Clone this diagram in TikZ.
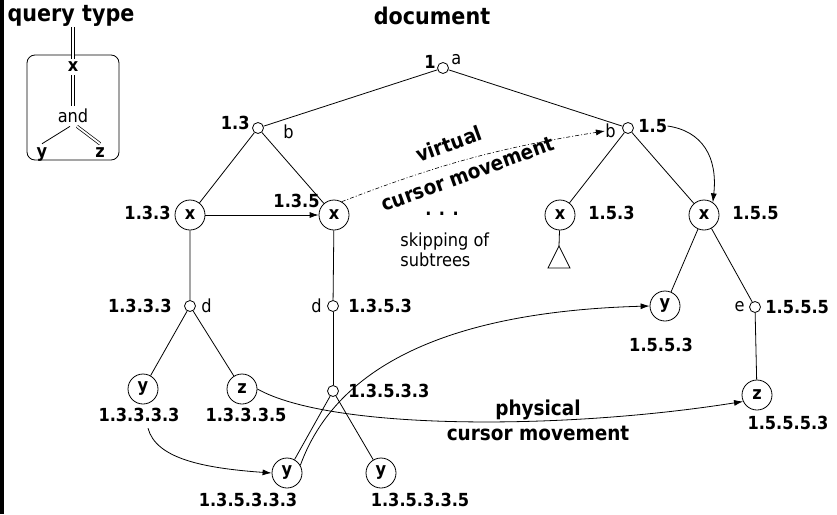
\documentclass[tikz,border=0pt]{standalone}
\usepackage{fontspec}
\setmainfont[FakeStretch=0.9]{DejaVu Sans}
\usetikzlibrary{arrows.meta, positioning}

\tikzset{
    elem/.style={circle, draw, minimum size=30pt, inner sep=0pt, font=\fontsize{18}{20}\selectfont\bfseries},
    txt/.style={circle, draw, minimum size=11pt, inner sep=0pt},
    lbl/.style={inner sep=0pt, font=\fontsize{18}{20}\selectfont\bfseries},
    tag/.style={inner sep=0pt, font=\fontsize{18}{20}\selectfont},
    head/.style={inner sep=1pt, font=\fontsize{23}{26}\selectfont\bfseries},
    move/.style={inner sep=0pt, font=\fontsize{20.5}{25}\selectfont\bfseries},
    dbl/.style={double, double distance=1.8pt, line width=0.7pt},
    virt/.style={dash pattern=on 4pt off 2pt on 1pt off 2pt}
}

\begin{document}
\begin{tikzpicture}[x=1pt, y=-1pt, line width=0.8pt, >={Latex[length=9pt,width=6pt]}]
    \useasboundingbox (0,0) rectangle (837,514);
    \fill (0,0) rectangle (4,514);

    % Tiêu đề
    \node[head, anchor=base] (qt) at (71,21) {query type};
    \node[head, anchor=base] (dt) at (432,24) {document};

    % Truy vấn
    \node[draw, rounded corners=8pt, minimum width=92pt, minimum height=105pt] (qbox) at (73,107.5) {};
    \node[lbl, inner sep=3pt] (qx) at (73,67) {x};
    \node[tag, inner sep=3pt] (qand) at (73,116) {and};
    \node[lbl, inner sep=3pt, anchor=base] (qy) at (42,157) {y};
    \node[lbl, inner sep=3pt, anchor=base] (qz) at (100,157) {z};
    \draw[dbl] (qx |- qt.south) -- (qx);
    \draw[dbl] (qx) -- (qand);
    \draw ([xshift=-3pt]qand.south) -- (qy.north);
    \draw[dbl] ([xshift=4pt]qand.south) -- (qz.north);

    % Cây tài liệu
    \node[txt] (n1) at (443,68) {};
    \node[lbl, anchor=east] (l1) at (436,62) {1};
    \node[tag, anchor=west] (a1) at (451,60) {a};

    \node[txt] (n13) at (258,128) {};
    \node[lbl, anchor=east] (l13) at (250,123) {1.3};
    \node[tag, anchor=west] (b13) at (283,132) {b};
    \node[txt] (n15) at (628,128) {};
    \node[tag, anchor=east] (b15) at (616,131) {b};
    \node[lbl, anchor=west] (l15) at (638,126) {1.5};

    \node[elem] (n133) at (190,215) {x};
    \node[lbl, anchor=east] (l133) at (171,213) {1.3.3};
    \node[elem] (n135) at (334,215) {x};
    \node[lbl, anchor=east] (l135) at (320,201) {1.3.5};
    \node[elem] (n153) at (560,215) {x};
    \node[lbl, anchor=west] (l153) at (588,213) {1.5.3};
    \node[elem] (n155) at (704,215) {x};
    \node[lbl, anchor=west] (l155) at (732,213) {1.5.5};

    \node[txt] (n1333) at (190,306) {};
    \node[lbl, anchor=east] (l1333) at (172,306) {1.3.3.3};
    \node[tag, anchor=west] (d1333) at (201,306) {d};
    \node[txt] (n1353) at (333,306) {};
    \node[tag, anchor=east] (d1353) at (322,306) {d};
    \node[lbl, anchor=west] (l1353) at (348,306) {1.3.5.3};

    \node[elem] (n13333) at (143,389) {y};
    \node[lbl] (l13333) at (139,415) {1.3.3.3.3};
    \node[elem] (n13335) at (242,389) {z};
    \node[lbl] (l13335) at (246,415) {1.3.3.3.5};
    \node[txt] (n13533) at (333,391) {};
    \node[lbl, anchor=west] (l13533) at (348,391) {1.3.5.3.3};
    \node[elem] (n135333) at (287,473) {y};
    \node[lbl] (l135333) at (248,500) {1.3.5.3.3.3};
    \node[elem] (n135335) at (381,473) {y};
    \node[lbl] (l135335) at (420,500) {1.3.5.3.3.5};

    \node[elem] (n15553) at (665,306) {y};
    \node[lbl] (l15553) at (661,345) {1.5.5.3};
    \node[txt] (n1555) at (755,307) {};
    \node[tag, anchor=east] (e1555) at (745,307) {e};
    \node[lbl, anchor=west] (l1555) at (765,307) {1.5.5.5};
    \node[elem] (n15555) at (757,395) {z};
    \node[lbl] (l15555) at (788,423) {1.5.5.5.3};

    % Cạnh của cây
    \draw (n1) -- (n13) (n1) -- (n15);
    \draw (n13) -- (n133) (n13) -- (n135);
    \draw (n15) -- (n153) (n15) -- (n155);
    \draw (n133) -- (n1333) (n135) -- (n1353);
    \draw (n1333) -- (n13333) (n1333) -- (n13335);
    \draw (n1353) -- (n13533);
    \draw (n13533) -- (n135333) (n13533) -- (n135335);
    \draw (n155) -- (n15553) (n155) -- (n1555) (n1555) -- (n15555);

    % Cây con bị bỏ qua
    \coordinate (sub) at (559,246);
    \draw (n153) -- (sub);
    \draw (sub) -- (548,268) -- (570,268) -- cycle;
    \node[lbl] (dots) at (442,214) {. . .};
    \node[tag, anchor=north west, align=left] (skip) at (400,232) {skipping of\\subtrees};

    % Di chuyển con trỏ ảo
    \draw[->] (n133) -- (n135);
    \draw[->, virt, line width=0.6pt] (n135.60) to[bend left=6] (b15.west);
    \draw[->] (l15.east) .. controls +(35,5) and +(5,-45) .. (n155.55);
    \node[move, rotate=20] (vt) at (449,144) {virtual};
    \node[move, rotate=20] (vc) at (468,174) {cursor movement};

    % Di chuyển con trỏ vật lý
    \draw[->] ([shift={(9,6)}]l13333.south) .. controls +(8,30) and +(-70,-5) .. (n135333.west);
    \draw[->] (n135333.30) .. controls +(40,-110) and +(-180,5) .. (n15553.west);
    \draw[->] (n13335.east) .. controls +(73,41) and +(-183,29) .. (n15555.205);
    \node[move, align=center] (pm) at (538,420) {physical\\cursor movement};
\end{tikzpicture}
\end{document}
